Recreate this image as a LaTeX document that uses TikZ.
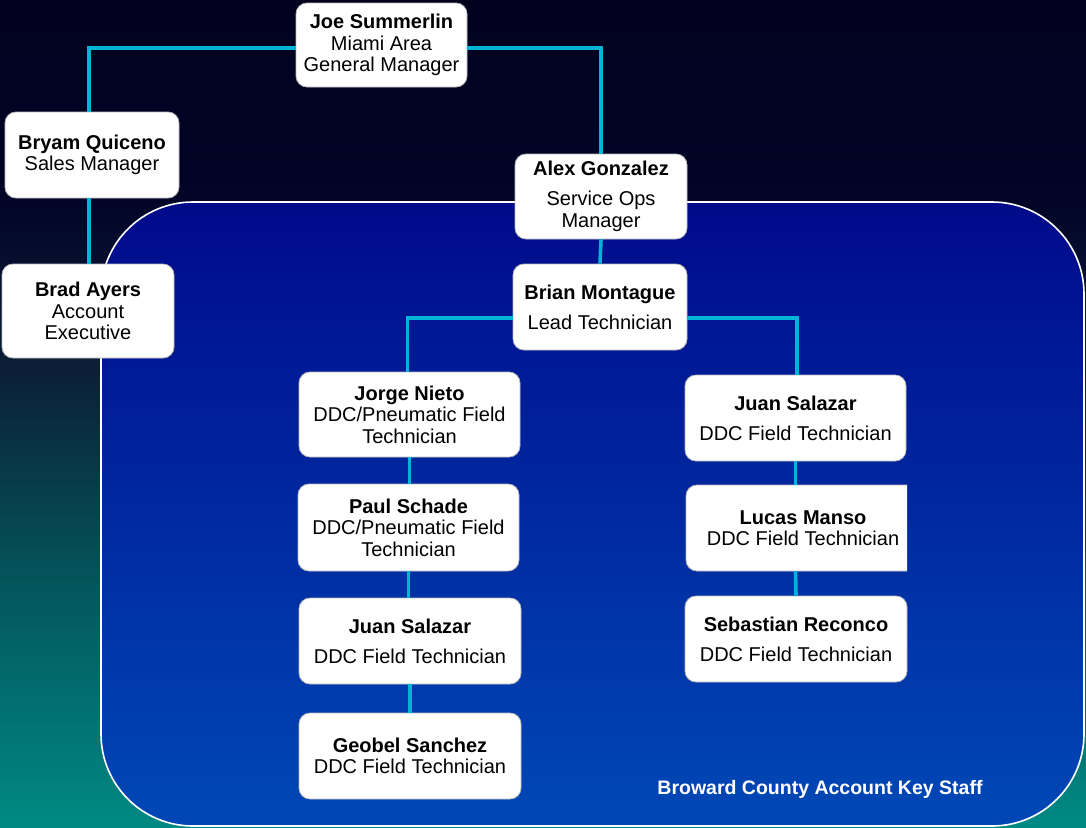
\documentclass[tikz,border=0pt]{standalone}
\usepackage{fontspec}
\setmainfont{Liberation Sans}
\usepackage{xcolor}
\usepackage{tikz}
\usetikzlibrary{calc}

\definecolor{linkcyan}{HTML}{00B4D8}
\definecolor{bgTop}{HTML}{02021F}
\definecolor{bgA}{HTML}{020428}
\definecolor{bgB}{HTML}{0B2038}
\definecolor{bgC}{HTML}{035A60}
\definecolor{bgD}{HTML}{008983}
\definecolor{staffTop}{HTML}{000A8A}
\definecolor{staffBot}{HTML}{0048B6}
\pgfdeclareverticalshading{backshade}{100bp}{color(0bp)=(bgD); color(25bp)=(bgD); color(38.5bp)=(bgC); color(52.5bp)=(bgB); color(63bp)=(bgA); color(75bp)=(bgTop); color(100bp)=(bgTop)}

\tikzset{
	card/.style={draw=gray!55, line width=0.8pt, fill=white, rounded corners=11pt,
		align=center, inner sep=0pt, minimum height=86pt,
		font=\fontsize{20}{21.5}\selectfont},
	link/.style={draw=linkcyan, line width=3.6pt},
}

\begin{document}
\begin{tikzpicture}[x=1pt, y=-1pt]
			\useasboundingbox (0,0) rectangle (1086,827);
			% background and key staff panel
			\shade[shading=backshade] (0,0) rectangle (1086,827);
			\path[draw=white, line width=1.6pt, rounded corners=92pt, top color=staffTop, bottom color=staffBot]
				(101,202) rectangle (1084,826);

			% management
			\node[card, minimum width=171pt, minimum height=84pt] (joe) at (381.5,45)
				{\textbf{Joe Summerlin}\\Miami Area\\General Manager};
			\node[card, minimum width=174pt] (bryam) at (92,155)
				{\textbf{Bryam Quiceno}\\Sales Manager};
			\node[card, minimum width=172pt, minimum height=94pt] (brad) at (88,311)
				{\textbf{Brad Ayers}\\Account\\Executive};
			\node[card, minimum width=172pt, minimum height=85pt] (alex) at (601,196.5)
				{\textbf{Alex Gonzalez}\\[8.5pt]Service Ops\\Manager};
			\node[card, minimum width=174pt] (brian) at (600,307)
				{\textbf{Brian Montague}\\[8.5pt]Lead Technician};

			% left column
			\node[card, minimum width=221pt, minimum height=85pt] (jorge) at (409.5,414.5)
				{\textbf{Jorge Nieto}\\DDC/Pneumatic Field\\Technician};
			\node[card, minimum width=221pt, minimum height=87pt] (paul) at (408.5,527.5)
				{\textbf{Paul Schade}\\DDC/Pneumatic Field\\Technician};
			\node[card, minimum width=222pt] (juanL) at (410,641)
				{\textbf{Juan Salazar}\\[8.5pt]DDC Field Technician};
			\node[card, minimum width=222pt] (geobel) at (410,756)
				{\textbf{Geobel Sanchez}\\DDC Field Technician};

			% right column
			\node[card, minimum width=221pt] (juanR) at (795.5,418)
				{\textbf{Juan Salazar}\\[8.5pt]DDC Field Technician};
			\begin{scope}
				\clip (600,470) rectangle (907,590);
				\node[card, minimum width=234pt] (lucas) at (803,528)
					{\textbf{Lucas Manso}\\DDC Field Technician};
			\end{scope}
			\node[card, minimum width=222pt] (sebastian) at (796,639)
				{\textbf{Sebastian Reconco}\\[8.5pt]DDC Field Technician};

			% connectors
			\draw[link] ([yshift=-3pt]joe.west) -| ($(bryam.north)+(-3,0)$);
			\draw[link] ($(bryam.south)+(-3,0)$) -- ($(bryam.south |- brad.north)+(-3,0)$);
			\draw[link] ([yshift=-3pt]joe.east) -| (alex.north);
			\draw[link] (alex.south) -- (brian.north);
			\draw[link] ([yshift=-11pt]brian.west) -| ($(jorge.north)+(-2,0)$);
			\draw[link] ([yshift=-11pt]brian.east) -| ($(juanR.north)+(1.5,0)$);
			\draw[link] (jorge.south) -- (jorge.south |- paul.north);
			\draw[link] (paul.south) -- (paul.south |- juanL.north);
			\draw[link] (juanL.south) -- (geobel.north);
			\draw[link] (juanR.south) -- (juanR.south |- lucas.north);
			\draw[link] (juanR.south |- lucas.south) -- (sebastian.north);

			\node[text=white, font=\bfseries\fontsize{19.5}{20}\selectfont] (caption) at (820,789)
				{Broward County Account Key Staff};
		\end{tikzpicture}
\end{document}
